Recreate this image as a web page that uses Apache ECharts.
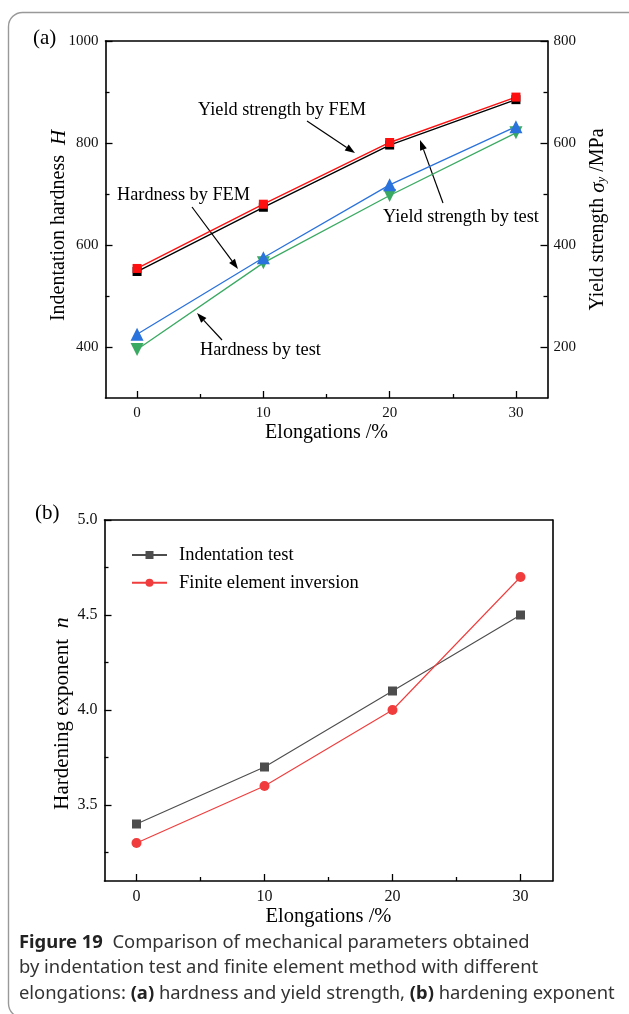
<!DOCTYPE html>
<html><head><meta charset="utf-8">
<script src="https://cdn.jsdelivr.net/npm/echarts@6/dist/echarts.min.js"></script>
<style>html,body{margin:0;padding:0;background:#fff;} #c{width:629px;height:1014px;}</style>
</head><body><div id="c"></div>
<script>
// ---- data ----
const elongations = [0, 10, 20, 30];
const hardnessFEM = [425, 575, 718, 832];
const hardnessTest = [395, 565, 697, 820];
const yieldFEM = [354, 480, 601, 690];
const yieldTest = [348, 474, 596, 685];
const nIndentation = [3.4, 3.7, 4.1, 4.5];
const nFEM = [3.3, 3.6, 4.0, 4.7];
const xTickLabels = [0, 10, 20, 30];
const xMinorTicks = [5, 15, 25];
const hTickLabels = [400, 600, 800, 1000];
const hMinorTicks = [500, 700, 900];
const sTickLabels = [200, 400, 600, 800];
const sMinorTicks = [300, 500, 700];
const nTickLabels = [3.5, 4.0, 4.5, 5.0];
const nMinorTicks = [3.25, 3.75, 4.25, 4.75];

const SERIF = '"Liberation Serif", "Times New Roman", serif';
const SANS = '"Noto Sans", "Open Sans", sans-serif';
const pair = (arr) => elongations.map((x, i) => [x, arr[i]]);

const axisLineStyle = { show: true, onZero: false, lineStyle: { color: '#000', width: 1.6 } };
const tickLine = { color: '#000', width: 1.3 };

function majorX(grid, name, gap, fs, nfs) {
  return {
    type: 'value', gridIndex: grid, position: 'bottom', min: -2.5, max: 32.5,
    axisLine: axisLineStyle, splitLine: { show: false },
    axisTick: { show: true, inside: true, length: 7, customValues: xTickLabels, lineStyle: tickLine },
    axisLabel: { fontFamily: SERIF, fontSize: fs, color: '#111', margin: 8, customValues: xTickLabels, formatter: (v) => String(v) },
    name: name, nameLocation: 'middle', nameGap: gap,
    nameTextStyle: { fontFamily: SERIF, fontSize: nfs, color: '#000' }
  };
}
function minorX(grid) {
  return {
    type: 'value', gridIndex: grid, position: 'bottom', min: -2.5, max: 32.5,
    axisLine: { show: false, onZero: false }, splitLine: { show: false },
    axisTick: { show: true, inside: true, length: 4, customValues: xMinorTicks, lineStyle: tickLine },
    axisLabel: { show: false }
  };
}
function topX(grid) {
  return {
    type: 'value', gridIndex: grid, position: 'top', min: -2.5, max: 32.5,
    axisLine: axisLineStyle, axisTick: { show: false }, axisLabel: { show: false }, splitLine: { show: false }
  };
}
function majorY(grid, pos, min, max, ticks, name, gap, rich, fs, shift, fmt) {
  return {
    type: 'value', gridIndex: grid, position: pos, min: min, max: max,
    axisLine: axisLineStyle, splitLine: { show: false },
    axisTick: { show: true, inside: true, length: 7, customValues: ticks, lineStyle: tickLine },
    axisLabel: { fontFamily: SERIF, fontSize: fs, color: '#111', margin: pos === 'left' ? 7 : 6, customValues: ticks, formatter: fmt || ((v) => String(v)) },
    name: name, nameLocation: 'middle', nameGap: gap, nameRotate: 90, nameMoveOverlap: false,
    nameTextStyle: { fontFamily: SERIF, fontSize: 20, color: '#000', rich: rich, padding: [0, shift, 0, 0] }
  };
}
function minorY(grid, pos, min, max, ticks) {
  return {
    type: 'value', gridIndex: grid, position: pos, min: min, max: max,
    axisLine: { show: false, onZero: false }, splitLine: { show: false },
    axisTick: { show: true, inside: true, length: 4, customValues: ticks, lineStyle: tickLine },
    axisLabel: { show: false }
  };
}

function nameRich(fs) {
  return {
    a: { fontFamily: SERIF, fontSize: fs, color: '#000' },
    i: { fontFamily: SERIF, fontSize: fs + 1, fontStyle: 'italic', color: '#000' },
    sub: { fontFamily: SERIF, fontSize: Math.round(fs * 0.65), fontStyle: 'italic', color: '#000', padding: [8, 0, 0, 0] }
  };
}

// arrow helper (annotation graphics)
function arrow(x1, y1, x2, y2) {
  const ang = Math.atan2(y2 - y1, x2 - x1);
  const L = 10, W = 3.6;
  const bx = x2 - L * Math.cos(ang), by = y2 - L * Math.sin(ang);
  const px = -Math.sin(ang) * W, py = Math.cos(ang) * W;
  return [
    { type: 'line', shape: { x1: x1, y1: y1, x2: bx, y2: by }, style: { stroke: '#000', lineWidth: 1.2 } },
    { type: 'polygon', shape: { points: [[x2, y2], [bx + px, by + py], [bx - px, by - py]] }, style: { fill: '#000' } }
  ];
}
function label(text, x, y, size) {
  return { type: 'text', x: x, y: y, style: { text: text, fontFamily: SERIF, fontSize: size || 18.3, fill: '#000', textVerticalAlign: 'middle' } };
}

const CAP = 18.4;
const capRich = {
  b: { fontFamily: SANS, fontSize: CAP, fontWeight: 'bold', fill: '#222', color: '#222' },
  n: { fontFamily: SANS, fontSize: CAP, fill: '#333', color: '#333' }
};
function capLine(text, y) {
  return { type: 'text', x: 19, y: y, style: { text: text, rich: capRich, fontFamily: SANS, fontSize: CAP, fill: '#333', textVerticalAlign: 'middle' } };
}

const graphics = [
  { type: 'rect', shape: { x: 8.5, y: 12.5, width: 680, height: 1005, r: 14 }, style: { fill: 'none', stroke: '#999', lineWidth: 1.4 }, z: -1 },
  label('(a)', 33, 38, 21),
  label('(b)', 35, 513, 21),
  label('Yield strength by FEM', 198, 110),
  label('Hardness by FEM', 117, 195),
  label('Yield strength by test', 383, 217),
  label('Hardness by test', 200, 350),
  ...arrow(307, 121, 355, 153),
  ...arrow(192, 207, 238, 269),
  ...arrow(443, 203, 420, 140),
  ...arrow(222, 340, 197, 313),
  capLine('{b|Figure 19}{n|  Comparison of mechanical parameters obtained}', 943),
  capLine('{n|by indentation test and finite element method with different}', 968),
  capLine('{n|elongations: }{b|(a)}{n| hardness and yield strength, }{b|(b)}{n| hardening exponent}', 994)
];

const chart = echarts.init(document.getElementById('c'), null, { renderer: 'canvas' });
chart.setOption({
  backgroundColor: '#fff',
  animation: false,
  grid: [
    { left: 105.5, right: 81.5, top: 41, height: 357 },
    { left: 104.5, right: 76.5, top: 520, height: 361 }
  ],
  xAxis: [
    majorX(0, 'Elongations /%', 25, 15, 20), minorX(0), topX(0),
    majorX(1, 'Elongations /%', 19, 16, 20.5), minorX(1), topX(1)
  ],
  yAxis: [
    majorY(0, 'left', 300, 1000, hTickLabels, '{a|Indentation hardness  }{i|H}', 36, nameRich(20), 15, 12),
    minorY(0, 'left', 300, 1000, hMinorTicks),
    majorY(0, 'right', 100, 800, sTickLabels, '{a|Yield strength }{i|σ}{sub|y}{a| /MPa}', 40, nameRich(20), 15, 0),
    minorY(0, 'right', 100, 800, sMinorTicks),
    majorY(1, 'left', 3.1, 5.0, nTickLabels, '{a|Hardening exponent  }{i|n}', 31, nameRich(21), 16, 26, (v) => v.toFixed(1)),
    minorY(1, 'left', 3.1, 5.0, nMinorTicks),
    { type: 'value', gridIndex: 1, position: 'right', min: 3.1, max: 5.0, axisLine: axisLineStyle, axisTick: { show: false }, axisLabel: { show: false }, splitLine: { show: false } }
  ],
  legend: {
    data: ['Indentation test', 'Finite element inversion'],
    orient: 'vertical', left: 131, top: 545.5, padding: 0, itemWidth: 35, itemHeight: 10, itemGap: 8.7,
    textStyle: { fontFamily: SERIF, fontSize: 18.5, color: '#000', padding: [0, 0, 0, 7], lineHeight: 19 }
  },
  series: [
    { name: 'Hardness by test', type: 'line', xAxisIndex: 0, yAxisIndex: 0, data: pair(hardnessTest),
      symbol: 'triangle', symbolRotate: 180, symbolSize: 13, color: '#3aaa62', lineStyle: { width: 1.3 } },
    { name: 'Hardness by FEM', type: 'line', xAxisIndex: 0, yAxisIndex: 0, data: pair(hardnessFEM),
      symbol: 'triangle', symbolSize: 13, color: '#2a72dc', lineStyle: { width: 1.3 } },
    { name: 'Yield strength by test', type: 'line', xAxisIndex: 0, yAxisIndex: 2, data: pair(yieldTest),
      symbol: 'rect', symbolSize: 9, color: '#000', lineStyle: { width: 1.4 } },
    { name: 'Yield strength by FEM', type: 'line', xAxisIndex: 0, yAxisIndex: 2, data: pair(yieldFEM),
      symbol: 'rect', symbolSize: 9, color: '#ff1010', lineStyle: { width: 1.4 } },
    { name: 'Indentation test', type: 'line', xAxisIndex: 3, yAxisIndex: 4, data: pair(nIndentation),
      symbol: 'rect', symbolSize: 9, color: '#4d4d4d', lineStyle: { width: 1.1 } },
    { name: 'Finite element inversion', type: 'line', xAxisIndex: 3, yAxisIndex: 4, data: pair(nFEM),
      symbol: 'circle', symbolSize: 10, color: '#f03c3c', lineStyle: { width: 1.1 } }
  ],
  graphic: graphics
});
</script></body></html>
